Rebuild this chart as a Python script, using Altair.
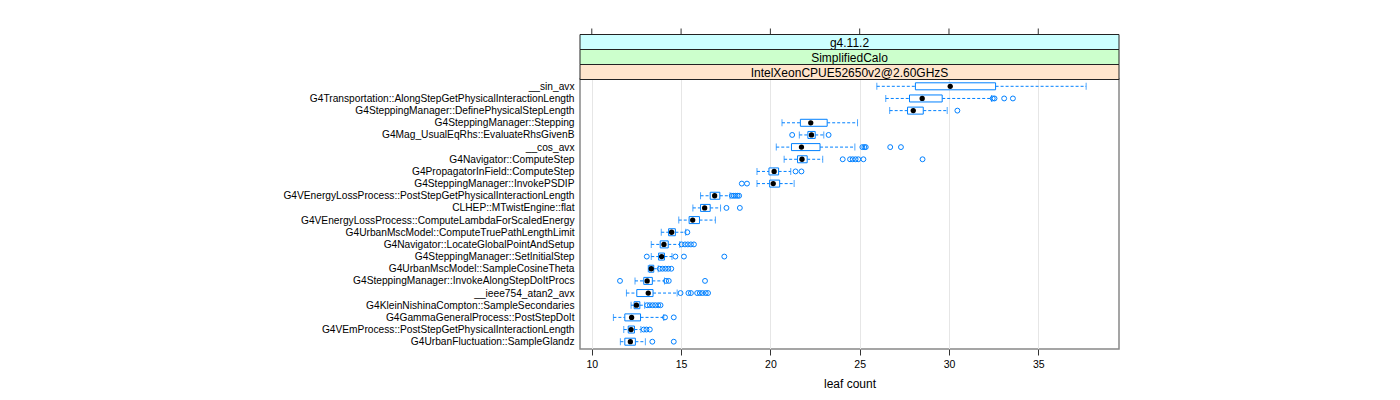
import altair as alt
import pandas as pd

labels = [
    "__sin_avx",
    "G4Transportation::AlongStepGetPhysicalInteractionLength",
    "G4SteppingManager::DefinePhysicalStepLength",
    "G4SteppingManager::Stepping",
    "G4Mag_UsualEqRhs::EvaluateRhsGivenB",
    "__cos_avx",
    "G4Navigator::ComputeStep",
    "G4PropagatorInField::ComputeStep",
    "G4SteppingManager::InvokePSDIP",
    "G4VEnergyLossProcess::PostStepGetPhysicalInteractionLength",
    "CLHEP::MTwistEngine::flat",
    "G4VEnergyLossProcess::ComputeLambdaForScaledEnergy",
    "G4UrbanMscModel::ComputeTruePathLengthLimit",
    "G4Navigator::LocateGlobalPointAndSetup",
    "G4SteppingManager::SetInitialStep",
    "G4UrbanMscModel::SampleCosineTheta",
    "G4SteppingManager::InvokeAlongStepDoItProcs",
    "__ieee754_atan2_avx",
    "G4KleinNishinaCompton::SampleSecondaries",
    "G4GammaGeneralProcess::PostStepDoIt",
    "G4VEmProcess::PostStepGetPhysicalInteractionLength",
    "G4UrbanFluctuation::SampleGlandz",
]

wlo = [25.96, 26.46, 26.68, 20.65, 21.62, 20.33, 20.77, 19.25, 19.25, 16.09, 15.66,
       14.87, 13.89, 13.33, 13.33, 13.16, 12.42, 11.94, 12.2, 11.21, 11.79, 11.6]
q1 = [28.12, 27.79, 27.68, 21.68, 22.1, 21.18, 21.52, 19.92, 19.96, 16.63, 16.09,
      15.45, 14.3, 13.83, 13.74, 13.2, 12.91, 12.52, 12.37, 11.85, 12.04, 11.85]
med = [30.07, 28.5, 28.0, 22.26, 22.3, 21.74, 21.77, 20.21, 20.16, 16.88, 16.32,
       15.65, 14.47, 14.04, 13.91, 13.33, 13.1, 13.16, 12.5, 12.23, 12.2, 12.16]
q3 = [32.61, 29.62, 28.56, 23.18, 22.51, 22.78, 22.06, 20.46, 20.52, 17.17, 16.63,
      16.03, 14.68, 14.28, 14.07, 13.47, 13.39, 13.43, 12.69, 12.73, 12.39, 12.44]
whi = [37.68, 32.38, 29.9, 24.88, 22.99, 24.73, 22.93, 21.14, 21.33, 17.74, 17.21,
       16.92, 15.26, 14.93, 14.49, 13.72, 14.07, 14.78, 12.96, 14.03, 12.75, 13.0]
outliers = [
    [],
    [32.45, 32.55, 33.09, 33.58],
    [30.47],
    [],
    [21.22, 23.26],
    [25.15, 25.26, 25.34, 26.71, 27.31],
    [24.05, 24.46, 24.61, 24.77, 24.92, 25.21, 28.52],
    [21.41, 21.74],
    [18.4, 18.69],
    [17.84, 17.95, 18.05, 18.16, 18.25],
    [17.54, 18.29],
    [],
    [15.35],
    [15.03, 15.22, 15.38, 15.55, 15.72],
    [13.08, 14.68, 15.16, 17.42],
    [13.81, 13.96, 14.12, 14.28, 14.45],
    [11.58, 14.16, 14.31, 16.34],
    [14.97, 15.41, 15.55, 15.9, 16.05, 16.2, 16.38, 16.51],
    [13.1, 13.25, 13.41, 13.56, 13.72, 13.85],
    [14.1, 14.59],
    [12.91, 13.06, 13.25],
    [13.39, 14.59],
]

x_ticks = [10, 15, 20, 25, 30, 35]
x_domain = [9.34, 39.52]
strip_labels = ["g4.11.2", "SimplifiedCalo", "IntelXeonCPUE52650v2@2.60GHzS"]
strip_colors = ["#ccffff", "#ccffcc", "#ffe5cc"]

BLUE = "#0080ff"
W, H = 539, 270

boxes = pd.DataFrame({"name": labels, "wlo": wlo, "q1": q1, "med": med, "q3": q3, "whi": whi})
out_rows = [{"name": n, "v": v} for n, vals in zip(labels, outliers) for v in vals]
outs = pd.DataFrame(out_rows)
caps = pd.concat([
    pd.DataFrame({"name": labels, "v": wlo}),
    pd.DataFrame({"name": labels, "v": whi}),
])
whisk = pd.concat([
    pd.DataFrame({"name": labels, "a": wlo, "b": q1}),
    pd.DataFrame({"name": labels, "a": q3, "b": whi}),
])
ticks_df = pd.DataFrame({"t": x_ticks})

yenc = alt.Y(
    "name:N", sort=labels,
    scale=alt.Scale(type="point", padding=0.6),
    axis=alt.Axis(title=None, ticks=False, domain=False, labelFontSize=10.2,
                  labelPadding=6, labelColor="black", labelLimit=500),
)
xscale = alt.Scale(domain=x_domain, nice=False, zero=False)
xaxis_bottom = alt.Axis(
    values=x_ticks, grid=True, gridColor="#e6e6e6", domain=False,
    ticks=True, tickSize=6, tickColor="#333333", labelFontSize=10.5,
    labelColor="black", labelPadding=4, title="leaf count", titleFontSize=12,
    titleFontWeight="normal", titleColor="black", titlePadding=9,
)

whisker_layer = alt.Chart(whisk).mark_rule(color=BLUE, strokeDash=[3, 2], strokeWidth=1).encode(
    x=alt.X("a:Q", scale=xscale, axis=xaxis_bottom), x2="b:Q", y=yenc
)
cap_layer = alt.Chart(caps).mark_tick(color=BLUE, size=7, thickness=1, strokeDash=[2, 1.5],
                                      orient="vertical").encode(
    x=alt.X("v:Q", scale=xscale), y=yenc
)
box_layer = alt.Chart(boxes).mark_bar(size=7, fill="white", stroke=BLUE, strokeWidth=1).encode(
    x=alt.X("q1:Q", scale=xscale), x2="q3:Q", y=yenc
)
med_layer = alt.Chart(boxes).mark_point(filled=True, color="black", size=28, opacity=1).encode(
    x=alt.X("med:Q", scale=xscale), y=yenc
)
out_layer = alt.Chart(outs).mark_point(filled=False, color=BLUE, size=24, strokeWidth=1,
                                       opacity=1).encode(
    x=alt.X("v:Q", scale=xscale), y=yenc
)
top_ticks = alt.Chart(ticks_df).mark_rule(color="#333333", strokeWidth=1).encode(
    x=alt.X("t:Q", scale=xscale), y=alt.value(-50.5), y2=alt.value(-44.5)
)

strip_layers = []
tops = [-44.5, -29.5, -14.5]
for lab, col, top in zip(strip_labels, strip_colors, tops):
    sd = pd.DataFrame({"label": [lab]})
    strip_layers.append(
        alt.Chart(sd).mark_rect(fill=col, stroke="#222222", strokeWidth=1).encode(
            x=alt.value(0), x2=alt.value(W), y=alt.value(top), y2=alt.value(top + 15)
        )
    )
    strip_layers.append(
        alt.Chart(sd).mark_text(fontSize=12, color="black", baseline="middle").encode(
            x=alt.value(W / 2), y=alt.value(top + 8), text="label:N"
        )
    )

chart = alt.layer(
    whisker_layer, cap_layer, box_layer, out_layer, med_layer, top_ticks, *strip_layers
).properties(
    width=W, height=H,
    autosize=alt.AutoSizeParams(type="none"),
    padding={"left": 580, "top": 79, "right": 281, "bottom": 51},
).configure(
    font="Liberation Sans",
).configure_view(
    stroke="#888888", strokeWidth=1.5,
)

chart.save("out.html", embed_options={"renderer": "svg", "actions": False})
